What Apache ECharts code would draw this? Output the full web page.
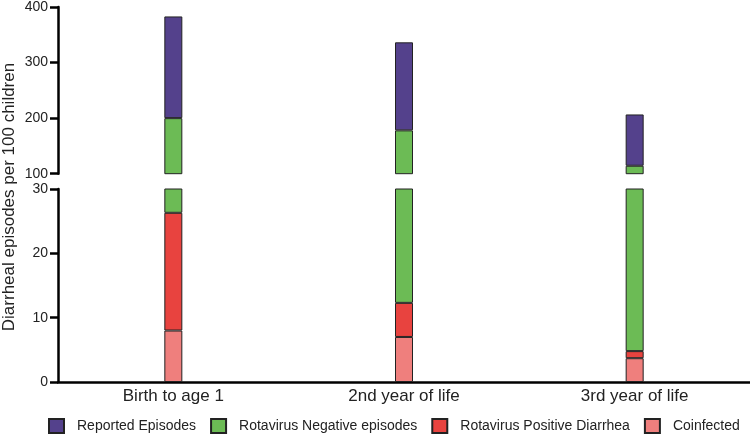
<!DOCTYPE html>
<html>
<head>
<meta charset="utf-8">
<script src="https://cdn.jsdelivr.net/npm/echarts@6/dist/echarts.min.js"></script>
<style>html,body{margin:0;padding:0;background:#fff}#c{width:750px;height:434px}</style>
</head>
<body>
<div id="c"></div>
<script>
const categories = ['Birth to age 1', '2nd year of life', '3rd year of life'];
const coinfected = [8.0, 7.0, 3.7];
const rotaPositive = [18.3, 5.3, 1.1];
const rotaNegative = [173.7, 165.7, 109.5];
const reported = [183.0, 158.4, 92.3];
const upperTicks = [100, 400, 100]; // min, max, interval
const lowerTicks = [0, 30, 10];

const names = ['Reported Episodes', 'Rotavirus Negative episodes', 'Rotavirus Positive Diarrhea', 'Coinfected'];
const colors = {
  'Coinfected': '#ef7f7d',
  'Rotavirus Positive Diarrhea': '#e8433f',
  'Rotavirus Negative episodes': '#6cbb55',
  'Reported Episodes': '#54418c'
};
const stackOrder = [
  ['Coinfected', coinfected],
  ['Rotavirus Positive Diarrhea', rotaPositive],
  ['Rotavirus Negative episodes', rotaNegative],
  ['Reported Episodes', reported]
];

const font = 'Liberation Sans, Arial, sans-serif';
const series = [];
[0, 1].forEach(g => {
  stackOrder.forEach(([name, data]) => {
    series.push({
      type: 'bar', name, data, xAxisIndex: g, yAxisIndex: g,
      stack: 'g' + g, barWidth: 18, clip: true,
      itemStyle: { color: colors[name], borderColor: '#222', borderWidth: 1 },
      emphasis: { disabled: true }
    });
  });
});

function yAxisFor(g, t) {
  return {
    type: 'value', gridIndex: g, min: t[0], max: t[1], interval: t[2],
    axisLine: { show: true, onZero: false, lineStyle: { color: '#000', width: 2.5 } },
    axisTick: { show: true, inside: false, length: 8, lineStyle: { color: '#000', width: 2.5 } },
    axisLabel: { color: '#222', fontSize: 14, fontFamily: font, margin: 10 },
    splitLine: { show: false }
  };
}

const chart = echarts.init(document.getElementById('c'), null, { renderer: 'canvas' });
chart.setOption({
  animation: false,
  backgroundColor: '#fff',
  grid: [
    { left: 58, right: 0, top: 5.7, height: 168 },
    { left: 58, right: 0, top: 189, bottom: 52 }
  ],
  xAxis: [
    { type: 'category', data: categories, gridIndex: 0, show: false },
    {
      type: 'category', data: categories, gridIndex: 1,
      axisLine: { show: true, onZero: false, lineStyle: { color: '#000', width: 2.5 } },
      axisTick: { show: false },
      axisLabel: { color: '#222', fontSize: 17, fontFamily: font, margin: 6 }
    }
  ],
  yAxis: [yAxisFor(0, upperTicks), yAxisFor(1, lowerTicks)],
  legend: {
    data: names,
    left: 48, bottom: 0, padding: 0, width: 702,
    icon: 'rect', itemWidth: 15, itemHeight: 14, itemGap: 14,
    textStyle: { color: '#222', fontSize: 14, fontFamily: font, padding: [0, 0, 0, 8] }
  },
  graphic: [{
    type: 'text', x: 9, y: 197, rotation: Math.PI / 2,
    style: {
      text: 'Diarrheal episodes per 100 children',
      font: '17px Liberation Sans, Arial, sans-serif',
      fill: '#222', textAlign: 'center', textVerticalAlign: 'middle'
    }
  }],
  series
});
</script>
</body>
</html>
